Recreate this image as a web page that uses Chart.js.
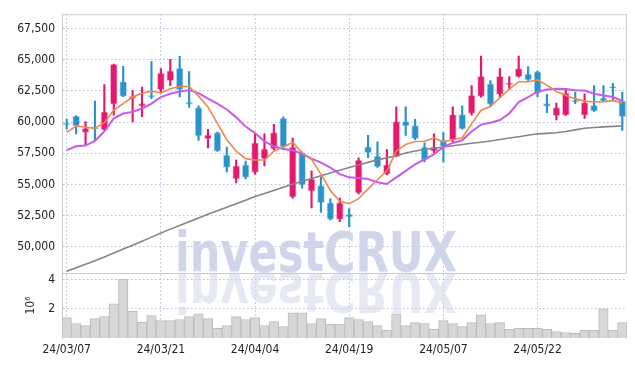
<!DOCTYPE html>
<html>
<head>
<meta charset="utf-8">
<script src="https://cdn.jsdelivr.net/npm/chart.js@4.4.1/dist/chart.umd.min.js"></script>
<style>
  html, body { margin: 0; padding: 0; background: #fff; }
</style>
</head>
<body>
<canvas id="chart" width="635" height="366"></canvas>
<script>
const dates = [
  '24/03/07', '24/03/08', '24/03/11', '24/03/12', '24/03/13', '24/03/14', '24/03/15', '24/03/18', '24/03/19', '24/03/20',
  '24/03/21', '24/03/22', '24/03/25', '24/03/26', '24/03/27', '24/03/28', '24/03/29', '24/04/01', '24/04/02', '24/04/03',
  '24/04/04', '24/04/05', '24/04/08', '24/04/09', '24/04/11', '24/04/12', '24/04/15', '24/04/16', '24/04/17', '24/04/18',
  '24/04/19', '24/04/22', '24/04/23', '24/04/24', '24/04/25', '24/04/26', '24/04/29', '24/04/30', '24/05/02', '24/05/03',
  '24/05/07', '24/05/08', '24/05/09', '24/05/10', '24/05/13', '24/05/14', '24/05/16', '24/05/17', '24/05/20', '24/05/21',
  '24/05/22', '24/05/23', '24/05/24', '24/05/27', '24/05/28', '24/05/29', '24/05/30', '24/05/31', '24/06/03', '24/06/04'
];

const opens = [
  59900, 60480, 59170, 59510, 59380, 61430, 63240, 61900, 61270, 62140,
  62610, 63320, 64320, 61610, 61170, 58670, 59170, 57350, 55440, 56570,
  55960, 57070, 57850, 60300, 53990, 57540, 54460, 54910, 53520, 52200,
  52600, 54330, 58010, 57280, 55830, 57220, 60040, 59720, 57990, 57670,
  58540, 58590, 60610, 60690, 62060, 63060, 62220, 62980, 63640, 63850,
  64060, 61480, 60510, 60560, 61750, 60560, 61350, 61930, 62850, 61690
];
const highs = [
  60220, 60500, 60040, 61690, 63000, 64660, 64480, 62530, 62800, 64850,
  64300, 65030, 65270, 64060, 61300, 59430, 59200, 57990, 56960, 56880,
  59060, 59060, 59830, 60430, 58720, 57600, 56090, 55620, 53860, 53910,
  53070, 57140, 58930, 58410, 57800, 61220, 61220, 60220, 58330, 59060,
  59170, 61220, 61300, 62930, 65290, 63320, 64300, 63640, 65290, 64450,
  64100, 62220, 61530, 62670, 62400, 62270, 62930, 62930, 63110, 62400
];
const lows = [
  59430, 59060, 58120, 58540, 59350, 60560, 62040, 60010, 60430, 61880,
  62320, 62930, 62010, 61170, 58540, 57930, 57650, 56010, 55120, 55440,
  55830, 56490, 57800, 57800, 53910, 54700, 53120, 52750, 52150, 52020,
  51620, 54250, 57140, 56360, 55780, 57200, 58930, 58590, 56800, 57540,
  56800, 58410, 59430, 60560, 62000, 61270, 62010, 62590, 63600, 63350,
  62010, 60750, 60170, 60530, 61480, 60300, 60850, 61610, 61690, 59330
];
const closes = [
  59800, 59700, 59510, 59430, 60820, 64640, 62060, 62060, 61480, 62010,
  63930, 64110, 62610, 61430, 58900, 58960, 57670, 56360, 56490, 55570,
  58330, 57850, 59170, 58010, 57990, 54960, 55440, 53540, 52200, 53520,
  52390, 56960, 57540, 56430, 56570, 60040, 59690, 58670, 56960, 57990,
  58060, 60610, 59460, 62140, 63660, 61430, 63660, 63140, 64300, 63380,
  62320, 61270, 61170, 62320, 61610, 61560, 60880, 61690, 62720, 60430
];

const ma5 = [
  59170, 59690, 59590, 59520, 59950, 60960, 61480, 62010, 62320, 62480,
  62340, 62670, 62860, 62850, 62080, 61220, 59900, 58590, 57670, 57070,
  56960, 56960, 57670, 58010, 58380, 57540, 57010, 55830, 54520, 53650,
  53460, 53860, 54650, 55380, 56090, 57670, 58200, 58450, 58460, 58720,
  58420, 58590, 58750, 59860, 60950, 61250, 61950, 62650, 63240, 63240,
  63380, 62940, 62450, 62150, 61860, 61680, 61610, 61640, 61720, 61560
];
const ma20 = [
  57750, 58060, 58120, 58500, 59250, 60300, 60690, 60820, 61090, 61480,
  62010, 62270, 62460, 62560, 62320, 61880, 61480, 61010, 60380, 59640,
  59120, 58460, 58060, 57850, 57750, 57460, 57070, 56750, 56360, 55830,
  55570, 55510, 55440, 55170, 55040, 55570, 56090, 56620, 57010, 57410,
  58010, 58330, 58540, 59250, 59800, 59950, 60170, 60690, 61600, 62010,
  62440, 62610, 62680, 62650, 62560, 62530, 62270, 62140, 62010, 61690
];
const ma60 = [
  48040, 48320, 48600, 48880, 49180, 49500, 49820, 50130, 50450, 50780,
  51110, 51420, 51720, 52020, 52310, 52610, 52900, 53180, 53460, 53740,
  54030, 54280, 54520, 54770, 55010, 55250, 55480, 55700, 55920, 56140,
  56360, 56560, 56770, 56980, 57130, 57300, 57530, 57690, 57800, 57900,
  58000, 58110, 58200, 58300, 58390, 58490, 58600, 58720, 58830, 58950,
  59060, 59100, 59150, 59250, 59380, 59510, 59570, 59620, 59660, 59690
];

// volume in units of 10^6
const volumes = [
  1.40, 1.00, 0.86, 1.33, 1.47, 2.35, 4.05, 1.83, 1.08, 1.54,
  1.20, 1.20, 1.27, 1.47, 1.67, 1.33, 0.66, 0.86, 1.47, 1.27,
  1.40, 0.86, 1.13, 0.79, 1.74, 1.74, 1.00, 1.33, 0.95, 0.95,
  1.40, 1.27, 1.13, 0.86, 0.52, 1.67, 0.86, 1.06, 1.00, 0.59,
  1.20, 1.00, 0.79, 1.06, 1.60, 1.00, 1.06, 0.59, 0.66, 0.66,
  0.66, 0.59, 0.45, 0.38, 0.32, 0.52, 0.52, 2.01, 0.52, 1.06
];

const priceTicks = [50000, 52500, 55000, 57500, 60000, 62500, 65000, 67500];
const volumeTicks = [2, 4];

const UP = '#e2196c';
const DOWN = '#2c93c8';
const UP_EDGE = 'rgba(226, 25, 108, 0.3)';
const DOWN_EDGE = 'rgba(44, 147, 200, 0.3)';
const GRID = 'rgba(150, 160, 200, 0.7)';
const FRAME = '#cccccc';
const TICK_FONT = { family: "'DejaVu Sans Condensed', 'Liberation Sans Narrow', sans-serif", size: 12 };
const MARK_FONT = 'bold 55px "DejaVu Sans", sans-serif';
const MARK_TEXT = 'investCRUX';

const isUp = opens.map((o, i) => closes[i] >= o);

const frame = {
  id: 'frame',
  beforeDatasetsDraw(chart) {
    const { ctx } = chart;
    ctx.save();
    ctx.font = MARK_FONT;
    ctx.textBaseline = 'alphabetic';
    const sx = 282 / ctx.measureText(MARK_TEXT).width;
    // upright text, baseline on the pane split
    ctx.setTransform(sx, 0, 0, 1, 175, 271);
    ctx.fillStyle = '#d0d5ea';
    ctx.fillText(MARK_TEXT, 0, 0);
    // mirrored copy below it, fading out
    ctx.setTransform(sx, 0, 0, -1, 175, 273);
    const grad = ctx.createLinearGradient(0, 0, 0, 40);
    grad.addColorStop(0, 'rgba(214, 218, 236, 0.6)');
    grad.addColorStop(1, 'rgba(214, 218, 236, 0.08)');
    ctx.fillStyle = grad;
    ctx.fillText(MARK_TEXT, 0, 0);
    ctx.restore();
  },
  afterDatasetsDraw(chart) {
    const { ctx, chartArea: a } = chart;
    const split = Math.round(chart.scales.y.bottom);
    ctx.save();
    ctx.strokeStyle = FRAME;
    ctx.lineWidth = 1;
    ctx.beginPath();
    ctx.moveTo(a.left, a.top + 0.5);
    ctx.lineTo(a.right, a.top + 0.5);
    ctx.moveTo(a.right - 0.5, a.top);
    ctx.lineTo(a.right - 0.5, split);
    ctx.moveTo(a.left, split + 0.5);
    ctx.lineTo(a.right, split + 0.5);
    ctx.stroke();
    ctx.restore();
  }
};

new Chart(document.getElementById('chart'), {
  type: 'bar',
  data: {
    labels: dates,
    datasets: [
      {
        type: 'line', label: 'MA5', data: ma5, yAxisID: 'y', order: 0,
        borderColor: '#f0874c', borderWidth: 1.6, pointRadius: 0, tension: 0
      },
      {
        type: 'line', label: 'MA20', data: ma20, yAxisID: 'y', order: 0,
        borderColor: '#c95ae9', borderWidth: 2, pointRadius: 0, tension: 0
      },
      {
        type: 'line', label: 'MA60', data: ma60, yAxisID: 'y', order: 0,
        borderColor: '#858585', borderWidth: 1.6, pointRadius: 0, tension: 0
      },
      {
        label: 'Body', data: opens.map((o, i) => [o, closes[i]]), yAxisID: 'y', order: 1,
        grouped: false, barThickness: 7, borderSkipped: false, borderWidth: 1,
        backgroundColor: isUp.map(u => (u ? UP : DOWN)),
        borderColor: isUp.map(u => (u ? UP_EDGE : DOWN_EDGE))
      },
      {
        label: 'Wick', data: lows.map((l, i) => [l, highs[i]]), yAxisID: 'y', order: 2,
        grouped: false, barThickness: 1.5, borderWidth: 0,
        backgroundColor: isUp.map(u => (u ? UP : DOWN))
      },
      {
        label: 'Volume', data: volumes, yAxisID: 'yv', order: 3,
        grouped: false, barPercentage: 1, categoryPercentage: 1,
        backgroundColor: '#d7d7d7', borderColor: '#bcbcbc', borderWidth: 1
      }
    ]
  },
  options: {
    responsive: false,
    animation: false,
    layout: { padding: { left: 0, right: 8, top: 9, bottom: 0 } },
    plugins: { legend: { display: false }, tooltip: { enabled: false } },
    scales: {
      x: {
        offset: true,
        afterFit: s => { s.height = 28; },
        ticks: {
          autoSkip: false, maxRotation: 0, padding: 5, color: '#222', font: TICK_FONT,
          callback: (v, i) => (i % 10 === 0 ? dates[i] : null)
        },
        grid: { color: GRID, drawTicks: false, offset: false },
        border: { display: false, dash: [1.5, 2.5] }
      },
      y: {
        stack: 'panes', stackWeight: 263, weight: 2,
        min: 47900, max: 68650,
        afterBuildTicks: s => { s.ticks = priceTicks.map(v => ({ value: v })); },
        afterFit: s => { s.width = 62; },
        ticks: { padding: 7, color: '#222', font: TICK_FONT, callback: v => v.toLocaleString('en-US') },
        grid: { color: GRID, drawTicks: false },
        border: { color: FRAME, dash: [1.5, 2.5] }
      },
      yv: {
        position: 'left',
        stack: 'panes', stackWeight: 66, weight: 1,
        min: 0, max: 4.47,
        afterBuildTicks: s => { s.ticks = volumeTicks.map(v => ({ value: v })); },
        afterFit: s => { s.width = 62; },
        ticks: { padding: 7, color: '#222', font: TICK_FONT },
        title: { display: true, text: '10⁶', color: '#333', font: TICK_FONT, padding: { top: 24, bottom: 0 } },
        grid: { color: GRID, drawTicks: false },
        border: { color: FRAME, dash: [1.5, 2.5] }
      }
    }
  },
  plugins: [frame]
});
</script>
</body>
</html>
